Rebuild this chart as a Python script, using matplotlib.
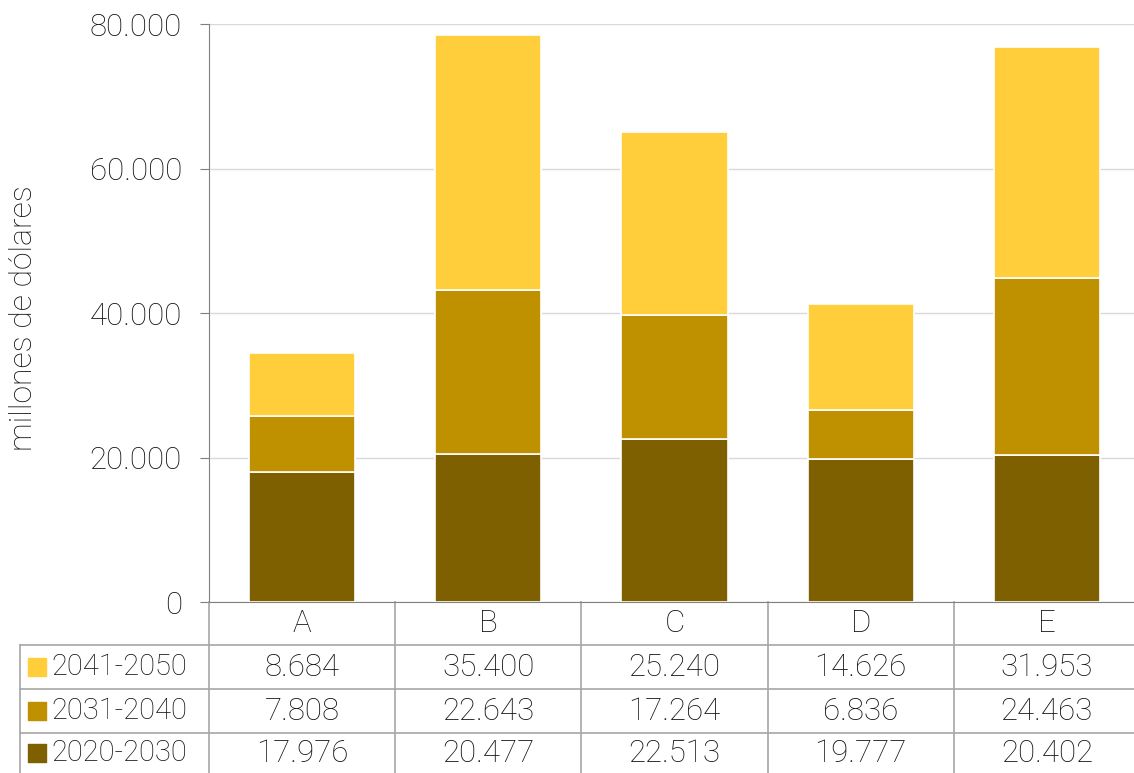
import numpy as np
import matplotlib.pyplot as plt
from matplotlib.ticker import FuncFormatter

plt.rcParams['font.family'] = ['Roboto', 'DejaVu Sans']
plt.rcParams['font.weight'] = 'light'

categorias = ["A", "B", "C", "D", "E"]
series = ["2041-2050", "2031-2040", "2020-2030"]
v_2020_2030 = [17976, 20477, 22513, 19777, 20402]
v_2031_2040 = [7808, 22643, 17264, 6836, 24463]
v_2041_2050 = [8684, 35400, 25240, 14626, 31953]
colores = {"2020-2030": "#7F6000", "2031-2040": "#BF9000", "2041-2050": "#FFCE3A"}
texto = "#111111"

W, H = 1134, 773
fig = plt.figure(figsize=(W / 100, H / 100), dpi=100)
x0, x1, ytop, ybot = 209, 1140, 24, 602
ax = fig.add_axes([x0 / W, 1 - ybot / H, (x1 - x0) / W, (ybot - ytop) / H])

x = np.arange(len(categorias))
base = np.zeros(len(categorias))
datos = {"2020-2030": v_2020_2030, "2031-2040": v_2031_2040, "2041-2050": v_2041_2050}
for nombre in ["2020-2030", "2031-2040", "2041-2050"]:
    vals = np.array(datos[nombre])
    ax.bar(x, vals, 0.57, bottom=base, color=colores[nombre], edgecolor="white",
           linewidth=1.2, zorder=3)
    base += vals

ax.set_xlim(-0.5, len(categorias) - 0.5)
ax.set_ylim(0, 80000)
ax.set_yticks([0, 20000, 40000, 60000, 80000])
ax.yaxis.set_major_formatter(FuncFormatter(lambda v, p: "0" if v == 0 else f"{int(v):,}".replace(",", ".")))
ax.grid(axis="y", color="#D9D9D9", linewidth=1, zorder=0)
ax.set_xticks([])
for s in ["top", "right"]:
    ax.spines[s].set_visible(False)
ax.spines["left"].set_color("#808080")
ax.spines["bottom"].set_color("#808080")
ax.tick_params(axis="y", length=6.5, color="#808080", labelsize=22.5, pad=13, labelcolor=texto)
ax.set_ylabel("millones de dólares", fontsize=23, color=texto, fontweight="light")
ax.yaxis.set_label_coords((38 - x0) / (x1 - x0), (ybot - 318) / (ybot - ytop))

# tabla de datos bajo el gráfico
gris = "#A6A6A6"
alto = ybot - ytop
def fy(py):
    return (ybot - py) / alto
def fx(px):
    return (px - x0) / (x1 - x0)

filas_y = [602, 645, 689, 733, 773]
for i in range(len(categorias)):
    ax.plot([i - 0.5, i - 0.5], [fy(602), fy(773)], color=gris, lw=1.2,
            transform=ax.get_xaxis_transform(), clip_on=False)
for py in filas_y[1:4]:
    ax.plot([fx(20), fx(1140)], [fy(py), fy(py)], color=gris, lw=1.2,
            transform=ax.transAxes, clip_on=False)
ax.plot([fx(20), fx(20)], [fy(645), fy(773)], color=gris, lw=1.2,
        transform=ax.transAxes, clip_on=False)

for i, cat in enumerate(categorias):
    ax.text(i, fy(624), cat, ha="center", va="center", fontsize=22.5, color=texto,
            transform=ax.get_xaxis_transform(), clip_on=False)

fmt = lambda v: f"{v:,}".replace(",", ".")
for r, nombre in enumerate(series):
    yc = fy((filas_y[r + 1] + filas_y[r + 2]) / 2)
    ax.scatter([fx(37)], [yc], marker="s", s=150, color=colores[nombre],
               transform=ax.transAxes, clip_on=False, zorder=5)
    ax.text(fx(51), yc, nombre, ha="left", va="center", fontsize=21, color=texto,
            transform=ax.transAxes, clip_on=False)
    for i, v in enumerate(datos[nombre]):
        ax.text(i, yc, fmt(v), ha="center", va="center", fontsize=22.5, color=texto,
                transform=ax.get_xaxis_transform(), clip_on=False)

fig.savefig("out.png", dpi=100)
